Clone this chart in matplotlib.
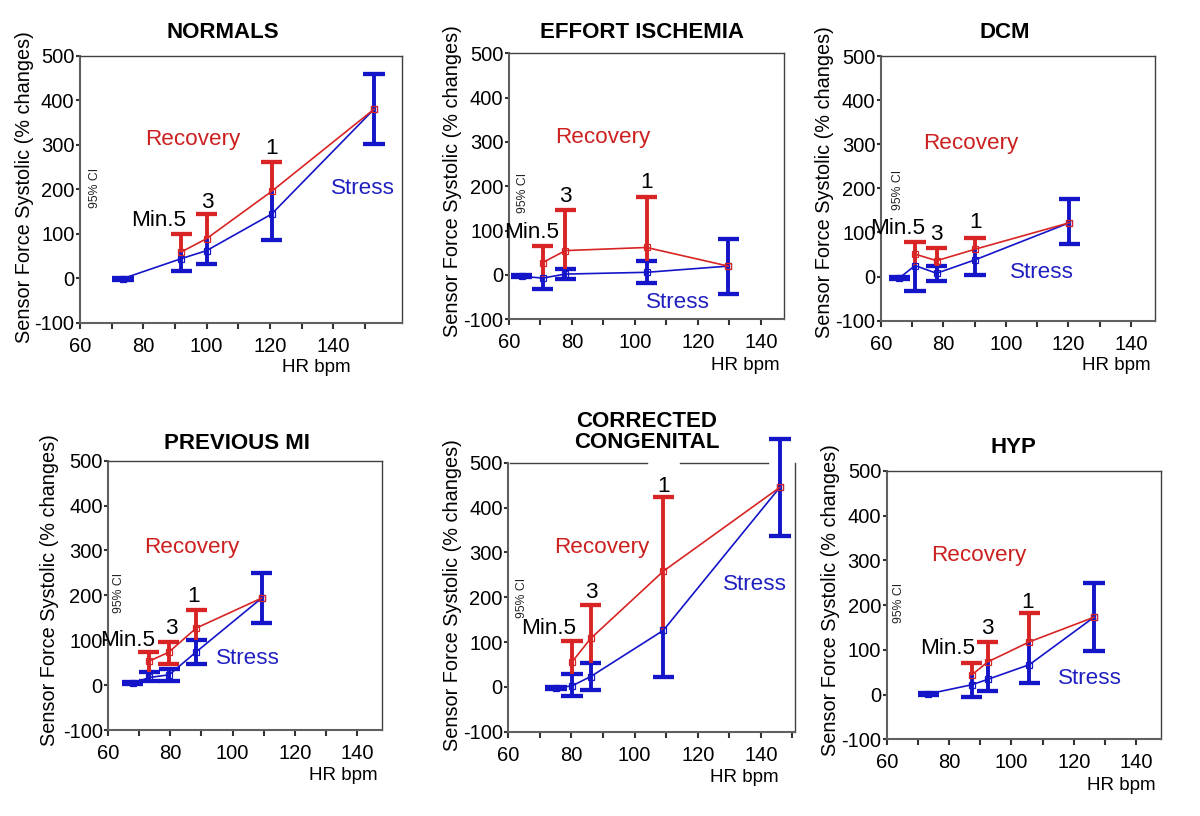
import numpy as np
import matplotlib
matplotlib.use("Agg")
import matplotlib.pyplot as plt

plt.rcParams['font.family'] = ['Liberation Sans', 'DejaVu Sans']
plt.rcParams['axes.unicode_minus'] = False

W, H = 1200, 816

# ---------------- data ----------------
titles = ["NORMALS", "EFFORT ISCHEMIA", "DCM", "PREVIOUS MI", "CORRECTED\nCONGENITAL", "HYP"]
x_ticks = [60, 80, 100, 120, 140]
y_ticks = [-100, 0, 100, 200, 300, 400, 500]
rec_labels = ["Min.5", "3", "1"]

# NORMALS
normals_stress_hr = [73.5, 92.0, 100.0, 120.5, 152.9]
normals_stress_mean = [-1, 44, 62, 144, 380]
normals_stress_lo = [-3, 16, 32, 85, 301]
normals_stress_hi = [1, 59, 89, 195, 460]
normals_stress_cap_hi = [True, False, False, False, True]
normals_rec_hr = [92.0, 100.0, 120.5]
normals_rec_mean = [59, 89, 195]
normals_rec_lo = [59, 89, 195]
normals_rec_hi = [100, 145, 261]
normals_rec_cap_lo = [False, False, False]

# EFFORT ISCHEMIA
effort_stress_hr = [64.0, 70.7, 77.9, 103.7, 129.6]
effort_stress_mean = [-3, -7, 2, 6, 20]
effort_stress_lo = [-5, -32, -9, -17, -43]
effort_stress_hi = [-1, -7, 13.5, 31, 81]
effort_stress_cap_hi = [True, False, True, True, True]
effort_rec_hr = [70.7, 77.9, 103.7]
effort_rec_mean = [28, 55, 62]
effort_rec_lo = [-7, 13.5, 31]
effort_rec_hi = [66, 147, 176]
effort_rec_cap_lo = [False, False, False]

# DCM
dcm_stress_hr = [65.9, 70.9, 77.8, 90.1, 120.3]
dcm_stress_mean = [-3, 25, 7.5, 38, 122]
dcm_stress_lo = [-5, -32, -10, 4, 73]
dcm_stress_hi = [-1, 25, 23, 62, 175]
dcm_stress_cap_hi = [True, False, True, False, True]
dcm_rec_hr = [70.9, 77.8, 90.1]
dcm_rec_mean = [51, 36, 62]
dcm_rec_lo = [25, 23, 62]
dcm_rec_hi = [79, 64, 87]
dcm_rec_cap_lo = [False, False, False]

# PREVIOUS MI
prevmi_stress_hr = [67.9, 73.2, 79.6, 88.3, 109.4]
prevmi_stress_mean = [4, 17, 23, 74, 194]
prevmi_stress_lo = [2, 10, 10, 47, 138]
prevmi_stress_hi = [6, 28.5, 36, 100, 250]
prevmi_stress_cap_hi = [True, True, True, True, True]
prevmi_rec_hr = [73.0, 79.4, 88.3]
prevmi_rec_mean = [53, 73, 127]
prevmi_rec_lo = [28.5, 47, 100]
prevmi_rec_hi = [74, 96, 168]
prevmi_rec_cap_lo = [False, True, False]

# CORRECTED CONGENITAL
congen_stress_hr = [75.1, 80.1, 86.1, 109.1, 146.0]
congen_stress_mean = [-2, 2, 23, 126, 445]
congen_stress_lo = [-4, -21, -7.5, 23, 337]
congen_stress_hi = [0, 28, 53, 126, 553]
congen_stress_cap_hi = [True, True, True, False, True]
congen_rec_hr = [80.1, 86.1, 109.1]
congen_rec_mean = [55, 108, 258]
congen_rec_lo = [28, 53, 126]
congen_rec_hi = [103, 183, 423]
congen_rec_cap_lo = [False, False, False]

# HYP
hyp_stress_hr = [73.4, 87.3, 92.4, 105.8, 126.5]
hyp_stress_mean = [1.5, 22, 34, 67, 173]
hyp_stress_lo = [-0.5, -4.5, 7, 26, 97]
hyp_stress_hi = [3.5, 44, 73, 118, 250]
hyp_stress_cap_hi = [True, False, False, False, True]
hyp_rec_hr = [87.3, 92.4, 105.8]
hyp_rec_mean = [44, 73, 118]
hyp_rec_lo = [44, 73, 118]
hyp_rec_hi = [71, 117, 182]
hyp_rec_cap_lo = [False, False, False]

panels_data = [
    (normals_stress_hr, normals_stress_mean, normals_stress_lo, normals_stress_hi, normals_stress_cap_hi,
     normals_rec_hr, normals_rec_mean, normals_rec_lo, normals_rec_hi, normals_rec_cap_lo),
    (effort_stress_hr, effort_stress_mean, effort_stress_lo, effort_stress_hi, effort_stress_cap_hi,
     effort_rec_hr, effort_rec_mean, effort_rec_lo, effort_rec_hi, effort_rec_cap_lo),
    (dcm_stress_hr, dcm_stress_mean, dcm_stress_lo, dcm_stress_hi, dcm_stress_cap_hi,
     dcm_rec_hr, dcm_rec_mean, dcm_rec_lo, dcm_rec_hi, dcm_rec_cap_lo),
    (prevmi_stress_hr, prevmi_stress_mean, prevmi_stress_lo, prevmi_stress_hi, prevmi_stress_cap_hi,
     prevmi_rec_hr, prevmi_rec_mean, prevmi_rec_lo, prevmi_rec_hi, prevmi_rec_cap_lo),
    (congen_stress_hr, congen_stress_mean, congen_stress_lo, congen_stress_hi, congen_stress_cap_hi,
     congen_rec_hr, congen_rec_mean, congen_rec_lo, congen_rec_hi, congen_rec_cap_lo),
    (hyp_stress_hr, hyp_stress_mean, hyp_stress_lo, hyp_stress_hi, hyp_stress_cap_hi,
     hyp_rec_hr, hyp_rec_mean, hyp_rec_lo, hyp_rec_hi, hyp_rec_cap_lo),
]

# ---------------- layout (pixels) ----------------
# axes rect: left, top, right, bottom ; x-limit right
axes_px = [
    (80, 55.7, 402, 322.7, 161.7),
    (509, 53.3, 784.3, 319.3, 147.4),
    (881, 56, 1155, 320.7, 147.7),
    (108.3, 460.7, 382.3, 730, 148.2),
    (508.3, 462.7, 795, 731.7, 150.8),
    (886.7, 471, 1161, 739.3, 148.0),
]
title_px = [(223, 33), (642, 33), (1005, 33), (237, 443), (647, 432), (1013, 448)]
ylabel_px = [(25, 187), (452, 181), (825, 182), (50, 590), (452, 595), (830, 600)]
xlabel_px = [(351, 368), (780, 365), (1151, 366), (378, 775), (779, 777), (1156, 785)]
ci_px = [(95, 188), (523, 193), (898, 190), (119, 593), (522, 598), (899, 603)]
recovery_px = [(193, 140), (603, 138), (971, 143), (192, 548), (602, 548), (979, 555)]
stress_px = [(363, 188), (678, 303), (1042, 273), (248, 658), (755, 585), (1090, 678)]
stage_px = [
    [(159, 220), (207, 202), (272, 149)],
    [(532, 232), (565, 197), (647, 183)],
    [(898, 228), (936, 235), (976, 223)],
    [(128, 640), (171, 629), (194, 597)],
    [(549, 629), (591, 593), (664, 487)],
    [(948, 648), (987, 629), (1028, 602)],
]

RED = '#d82424'
BLUE = '#1414c8'
RED_TXT = '#cc2020'
BLUE_TXT = '#2020c0'
CAP_HW = 3.4  # cap half width in bpm


def fx(x):
    return x / W


def fy(y):
    return 1 - y / H


fig = plt.figure(figsize=(W / 100, H / 100), dpi=100)
fig.patch.set_facecolor('white')


def draw_bars(ax, x, mean, lo, hi, cap_lo, cap_hi, color, z):
    x = np.asarray(x, float)
    lo = np.asarray(lo, float)
    hi = np.asarray(hi, float)
    ax.vlines(x, lo, hi, colors=color, lw=2.8, zorder=z, clip_on=False)
    cl = np.asarray(cap_lo, bool)
    ch = np.asarray(cap_hi, bool)
    ax.hlines(lo[cl], x[cl] - CAP_HW, x[cl] + CAP_HW, colors=color, lw=3.1, zorder=z, clip_on=False)
    ax.hlines(hi[ch], x[ch] - CAP_HW, x[ch] + CAP_HW, colors=color, lw=3.1, zorder=z, clip_on=False)


for i, (s_hr, s_m, s_lo, s_hi, s_caphi, r_hr, r_m, r_lo, r_hi, r_caplo) in enumerate(panels_data):
    l, t, r, b, xr = axes_px[i]
    ax = fig.add_axes([fx(l), fy(b), (r - l) / W, (b - t) / H])
    ax.set_xlim(60, xr)
    ax.set_ylim(-100, 500)

    # stress
    draw_bars(ax, s_hr, s_m, s_lo, s_hi, [True] * len(s_hr), s_caphi, BLUE, 3)
    # recovery
    draw_bars(ax, r_hr, r_m, r_lo, r_hi, r_caplo, [True] * len(r_hr), RED, 4)

    ax.plot(s_hr, s_m, color=BLUE, lw=1.2, marker='s', ms=4.5, mfc='none', mew=0.9,
            zorder=5, clip_on=False)
    rec_x = [s_hr[-1]] + list(r_hr[::-1])
    rec_y = [s_m[-1]] + list(r_m[::-1])
    ax.plot(rec_x, rec_y, color=RED, lw=1.2, marker='s', ms=4.5, mfc='none', mew=0.9,
            zorder=6, clip_on=False)

    # axes styling
    for side in ['left', 'bottom']:
        ax.spines[side].set_color('#606060')
        ax.spines[side].set_linewidth(1.5)
    for side in ['top', 'right']:
        ax.spines[side].set_color('#404040')
        ax.spines[side].set_linewidth(1.0)
    if i == 4:
        ax.spines['top'].set_visible(False)
        ax.plot([0.006, 0.484], [1, 1], transform=ax.transAxes, color='#404040', lw=1.0, clip_on=False)
        ax.plot([0.6, 0.905], [1, 1], transform=ax.transAxes, color='#404040', lw=1.0, clip_on=False)

    ax.set_xticks(x_ticks)
    ax.set_xticks(np.arange(70, xr, 20), minor=True)
    ax.set_yticks(y_ticks)
    ax.tick_params(axis='x', which='both', direction='out', length=4, width=1.5, color='#333333',
                   labelsize=14.5, pad=6)
    ax.tick_params(axis='y', direction='out', length=3, width=1.5, color='#333333',
                   labelsize=14.5, pad=1)

    ax.set_ylabel('Sensor Force Systolic (% changes)', fontsize=14.3, va='center')
    ax.yaxis.set_label_coords(fx(ylabel_px[i][0]), fy(ylabel_px[i][1]), transform=fig.transFigure)
    ax.set_xlabel('HR bpm', fontsize=13.5, ha='right', va='center')
    ax.xaxis.set_label_coords(fx(xlabel_px[i][0]), fy(xlabel_px[i][1]), transform=fig.transFigure)

    tx, ty = title_px[i]
    ax.set_title(titles[i], fontsize=16, fontweight='bold', va='center', ha='center',
                 linespacing=0.95, x=(tx - l) / (r - l), y=(b - ty) / (b - t), pad=0)

    fig.text(fx(ci_px[i][0]), fy(ci_px[i][1]), '95% CI', fontsize=8.8, rotation=90,
             ha='center', va='center', color='#222222')
    fig.text(fx(recovery_px[i][0]), fy(recovery_px[i][1]), 'Recovery', fontsize=16.2,
             color=RED_TXT, ha='center', va='center')
    fig.text(fx(stress_px[i][0]), fy(stress_px[i][1]), 'Stress', fontsize=16.2,
             color=BLUE_TXT, ha='center', va='center')
    for lab, (px_, py_) in zip(rec_labels, stage_px[i]):
        fig.text(fx(px_), fy(py_), lab, fontsize=16.2, color='black', ha='center', va='center')

fig.savefig('out.png', dpi=100, facecolor='white')
